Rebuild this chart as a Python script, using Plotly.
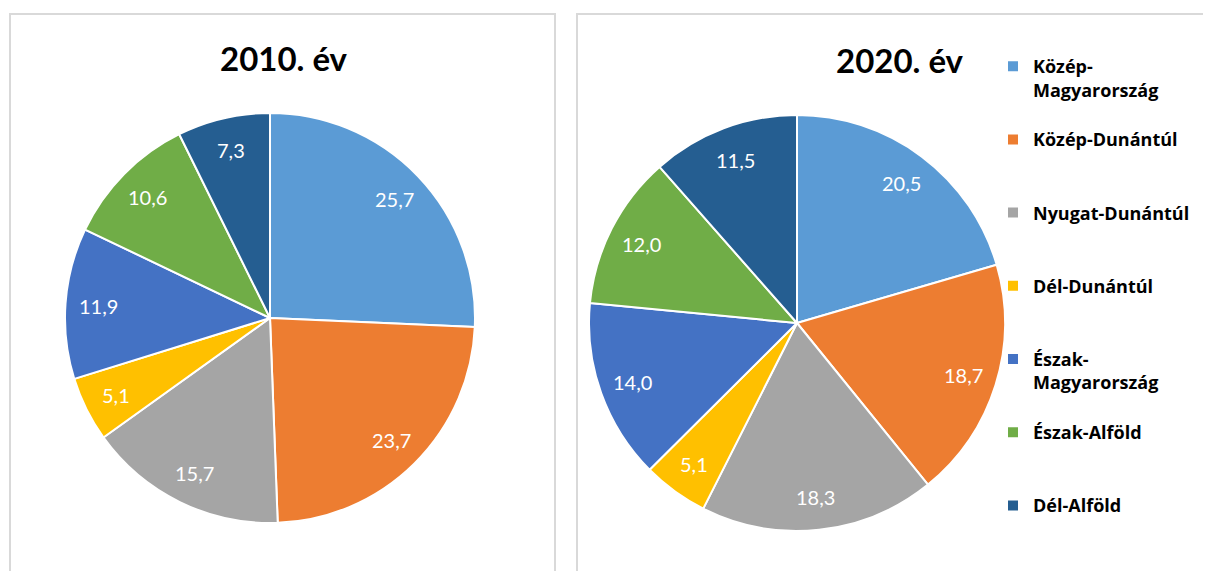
import math
import plotly.graph_objects as go

regions = ["Közép-<br>Magyarország", "Közép-Dunántúl", "Nyugat-Dunántúl", "Dél-Dunántúl",
           "Észak-<br>Magyarország", "Észak-Alföld", "Dél-Alföld"]
values_2010 = [25.7, 23.7, 15.7, 5.1, 11.9, 10.6, 7.3]
values_2020 = [20.5, 18.7, 18.3, 5.1, 14.0, 12.0, 11.5]
titles = ["2010. év", "2020. év"]
colors = ["#5B9BD5", "#ED7D31", "#A5A5A5", "#FFC000", "#4472C4", "#70AD47", "#255E91"]

OFF = 8  # page body margin
W, H = 1211 - OFF, 571 - OFF


def px(x):
    return (x - OFF) / W


def py(y):
    return 1 - (y - OFF) / H


def legend_label(name):
    n = name.count("<br>") + 1
    return name + "<br> " * (3 - n)


def fmt(v):
    return f"{v:.1f}".replace(".", ",")


def dom(cx, cy, r):
    return dict(x=[px(cx - r), px(cx + r)], y=[py(cy + r), py(cy - r)])


labels = [legend_label(r) for r in regions]

fig = go.Figure()
pies = [(values_2010, 270, 318, 205, False), (values_2020, 797, 323, 208, True)]
for vals, cx, cy, r, show in pies:
    fig.add_trace(go.Pie(
        labels=labels, values=vals, textinfo="none",
        marker=dict(colors=colors, line=dict(color="white", width=2)),
        sort=False, direction="clockwise", rotation=0,
        domain=dom(cx, cy, r), showlegend=show, hoverinfo="label+value",
    ))
    total = sum(vals)
    cum = 0.0
    for v in vals:
        theta = math.radians(360 * (cum + v / 2) / total)
        cum += v
        lx = cx + 0.84 * r * math.sin(theta)
        ly = cy - 0.84 * r * math.cos(theta)
        fig.add_annotation(text=fmt(v), x=px(lx), y=py(ly), xref="paper", yref="paper",
                           xanchor="center", yanchor="middle", showarrow=False,
                           font=dict(family="Lato", size=20, color="white"))

for t, tx, ty in zip(titles, [284, 900], [58, 60]):
    fig.add_annotation(text=f"<b>{t}</b>", x=px(tx), y=py(ty), xref="paper", yref="paper",
                       xanchor="center", yanchor="middle", showarrow=False,
                       font=dict(family="Lato", size=33, color="black"))

for x0, x1 in [(10, 555), (577, 1230)]:
    fig.add_shape(type="rect", xref="paper", yref="paper", x0=px(x0), x1=px(x1),
                  y0=-0.1, y1=py(14), line=dict(color="#D9D9D9", width=2), layer="below")

fig.update_layout(
    width=W, height=H, margin=dict(l=0, r=0, t=0, b=0),
    paper_bgcolor="white", plot_bgcolor="white",
    legend=dict(x=px(993), y=py(63), xanchor="left", yanchor="top",
                font=dict(family="Open Sans", size=18, color="black", weight="bold"),
                valign="top", itemwidth=30, traceorder="normal", bgcolor="rgba(0,0,0,0)"),
)

fig.write_html("out.html")
